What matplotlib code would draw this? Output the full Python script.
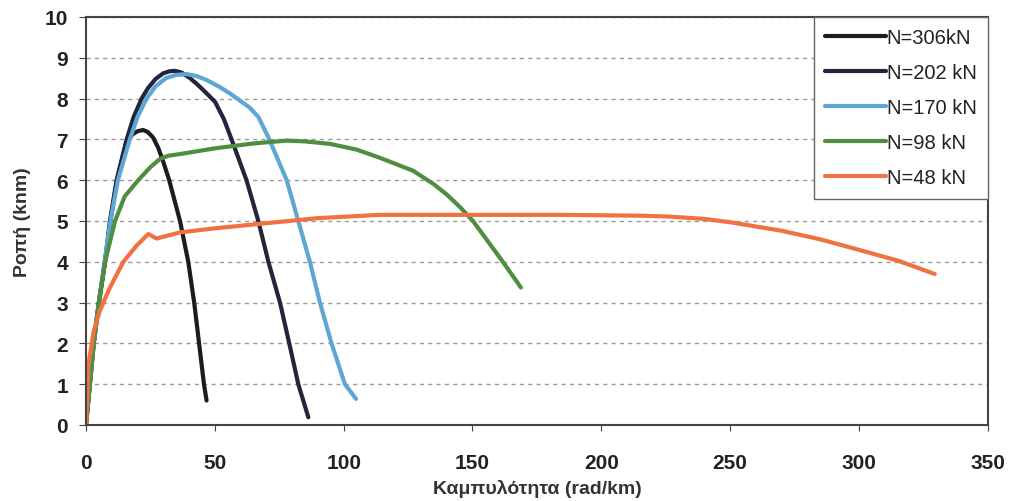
import matplotlib.pyplot as plt

plt.rcParams['font.family'] = ['Liberation Sans', 'DejaVu Sans']

# curvature (rad/km) and moment (knm) for each axial load
x306 = [0, 1.5, 3, 5, 7.4, 9.5, 12, 15.5, 18, 20, 22.2, 24, 26, 28, 30, 32.3, 36.5, 39.7, 42, 43.9, 45.8, 46.8]
y306 = [0, 1, 2, 3, 4, 5, 6, 6.9, 7.12, 7.2, 7.23, 7.18, 7.05, 6.8, 6.45, 6, 5, 4, 3, 2, 1, 0.6]

x202 = [0, 1.5, 3, 5, 7.4, 9.3, 11.9, 15.8, 18.5, 21.6, 24, 27, 30, 32.5, 34.5, 37, 40, 43, 46, 50.1, 53.5, 56.5, 62.3, 66.9, 70.8, 75.3, 78.9, 82.4, 86.3]
y202 = [0, 1, 2, 3, 4, 5, 6, 7, 7.55, 8, 8.25, 8.48, 8.62, 8.67, 8.68, 8.64, 8.52, 8.36, 8.18, 7.92, 7.5, 7, 6, 5, 4, 3, 2, 1, 0.19]

x170 = [0, 1.5, 3, 5, 7.2, 9.5, 12.4, 17, 20, 23.5, 27, 31, 35, 39.1, 43, 47, 52, 56, 59.8, 63.5, 66.9, 70.8, 77.9, 82.4, 86.9, 90.8, 95.3, 100.5, 104.8]
y170 = [0, 1, 2, 3, 4, 5, 6, 7, 7.55, 8, 8.3, 8.5, 8.58, 8.6, 8.55, 8.45, 8.28, 8.12, 7.95, 7.78, 7.55, 7.05, 6, 5, 4, 3, 2, 1, 0.64]

x98 = [0, 1.5, 3, 5, 7.4, 11.3, 15, 20.3, 25, 28.7, 32, 36.5, 50, 65, 77.9, 85, 94.7, 105, 114, 127, 135, 140, 145, 150.2, 156, 161.9, 168.8]
y98 = [0, 1, 2, 3, 4, 5, 5.6, 6, 6.32, 6.52, 6.6, 6.64, 6.78, 6.9, 6.97, 6.95, 6.89, 6.75, 6.55, 6.23, 5.9, 5.65, 5.35, 5.0, 4.5, 3.99, 3.37]

x48 = [0, 1, 3, 5.4, 9, 14.5, 19.7, 24.2, 27.4, 36.5, 50, 67.5, 90, 114, 150, 185, 215, 226, 240, 250, 270, 285, 299, 315, 329.4]
y48 = [0, 1.5, 2.3, 2.8, 3.33, 4.0, 4.4, 4.68, 4.57, 4.72, 4.82, 4.93, 5.07, 5.15, 5.15, 5.15, 5.13, 5.11, 5.05, 4.97, 4.76, 4.55, 4.31, 4.03, 3.7]

labels = ['N=306kN', 'N=202 kN', 'N=170 kN', 'N=98 kN', 'N=48 kN']
colors = ['#1c1c1c', '#22253d', '#5ea6d3', '#4f8d3f', '#f07242']

fig = plt.figure(figsize=(10.09, 5.02), dpi=100)
ax = fig.add_axes([0.0852, 0.1514, 0.8938, 0.8128])

series = [(x306, y306), (x202, y202), (x170, y170), (x98, y98), (x48, y48)]
for (xs, ys), lab, c in zip(series, labels, colors):
    ax.plot(xs, ys, color=c, lw=3, label=lab, solid_capstyle='round', solid_joinstyle='round')

ax.set_xlim(0, 350)
ax.set_ylim(0, 10)
ax.set_xticks(range(0, 351, 50))
ax.set_yticks(range(0, 11))
ax.yaxis.grid(True, linestyle=(0, (3, 3)), color='#9a9a9a', lw=1)
ax.set_axisbelow(True)

for s in ax.spines.values():
    s.set_color('#444444')
    s.set_linewidth(1.5)

ax.tick_params(axis='x', length=4, pad=16, labelsize=15, colors='#444444', labelcolor='#222222')
ax.tick_params(axis='y', length=5, pad=8, labelsize=15, colors='#444444', labelcolor='#222222')
for t in ax.get_xticklabels() + ax.get_yticklabels():
    t.set_fontweight('bold')

ax.set_xlabel('Καμπυλότητα (rad/km)', fontsize=14, fontweight='bold', color='#333333', labelpad=5)
ax.set_ylabel('Ροπή (knm)', fontsize=14, fontweight='bold', color='#333333', labelpad=10)

leg = ax.legend(loc='upper right', bbox_to_anchor=(1.0, 1.0), fontsize=14.5, handlelength=3.0,
                handletextpad=0.05, labelspacing=0.8, borderpad=0.55, borderaxespad=0,
                fancybox=False, framealpha=1, edgecolor='#666666')
leg.get_frame().set_linewidth(1.0)
for t in leg.get_texts():
    t.set_color('#222222')

fig.savefig('out.png', dpi=100)
